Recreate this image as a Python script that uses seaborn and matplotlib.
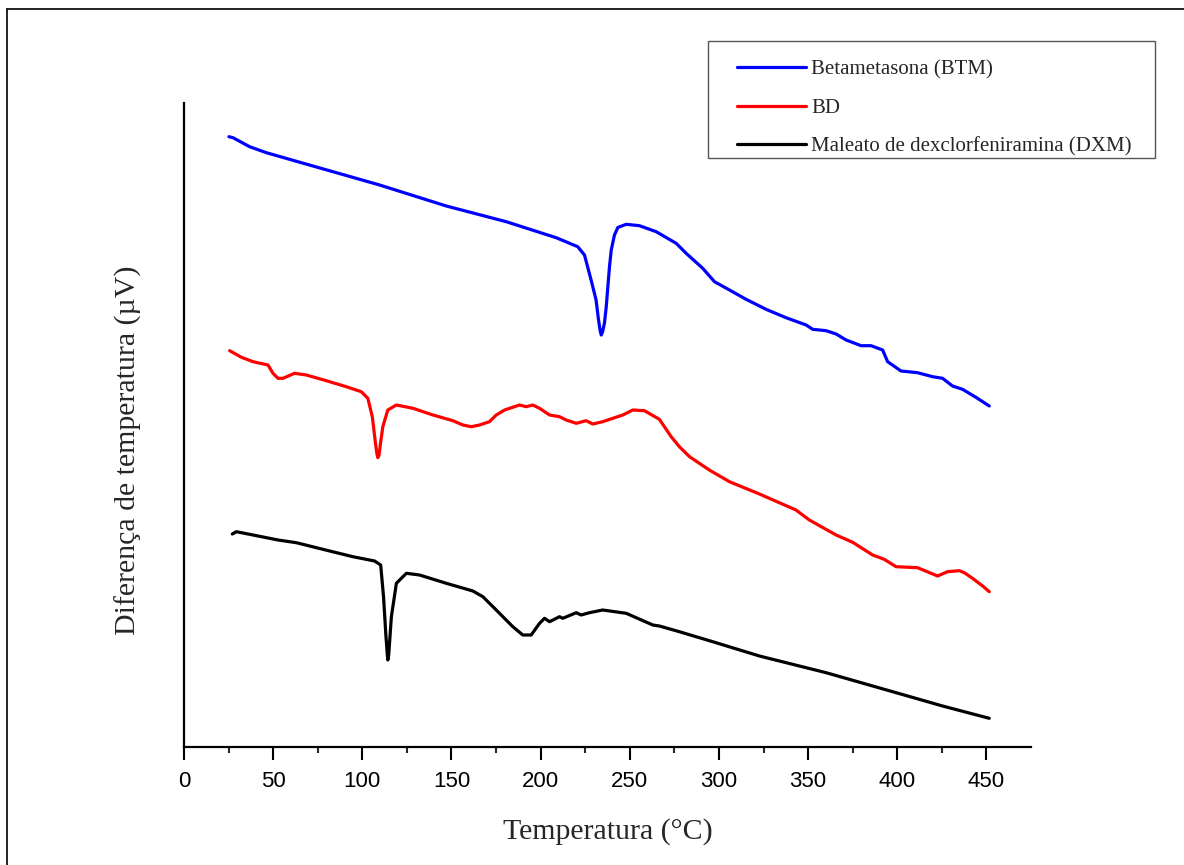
import numpy as np
import pandas as pd
import matplotlib
matplotlib.use("Agg")
import matplotlib.pyplot as plt
from matplotlib.lines import Line2D
from matplotlib.patches import Rectangle
import seaborn as sns

# ---------------- data ----------------
btm_T = [25.2, 27.5, 36.8, 46.2, 72.3, 109.7, 147.1, 180.7, 208.7, 220.8, 224.6, 228.3,
         231.1, 232.4, 233.4, 234.0, 234.7, 235.8, 236.8, 238.6, 239.6, 241.4, 243.3,
         248.0, 255.4, 264.8, 276.0, 281.6, 290.9, 297.5, 305.9, 315.2, 326.4, 337.6,
         348.9, 352.6, 360.1, 365.7, 371.3, 379.7, 385.3, 391.8, 394.6, 402.1, 411.4,
         419.8, 425.4, 431.0, 436.6, 444.1, 451.6]
btm_S = [610.3, 609.3, 600.3, 594.3, 581.0, 562.0, 541.0, 525.3, 509.3, 500.3, 492.0, 467.0,
         447.0, 428.0, 416.0, 412.0, 415.0, 424.0, 440.3, 480.0, 497.0, 512.0, 519.5,
         522.7, 521.3, 515.3, 503.7, 493.7, 478.7, 465.3, 457.0, 447.7, 437.7, 429.3,
         422.0, 417.7, 416.3, 413.0, 407.0, 401.3, 401.3, 397.0, 385.3, 376.0, 374.3,
         370.3, 368.7, 361.0, 357.7, 349.7, 341.0]

bd_T = [25.6, 32.2, 38.7, 47.1, 49.9, 52.7, 55.5, 62.0, 68.6, 79.8, 91.0, 99.4, 103.1,
        105.6, 107.3, 108.2, 108.7, 109.4, 110.3, 111.5, 114.3, 119.1, 128.4, 139.6,
        150.8, 156.4, 161.1, 165.7, 171.3, 175.1, 179.8, 188.2, 191.9, 195.6, 199.4,
        205.0, 210.6, 214.3, 220.0, 225.5, 229.2, 234.8, 240.5, 246.1, 251.7, 258.2,
        266.6, 273.2, 277.8, 283.5, 294.6, 305.9, 322.7, 343.2, 350.7, 365.7, 375.0,
        386.2, 392.7, 399.3, 411.4, 422.6, 428.2, 434.8, 437.6, 442.2, 447.9, 451.6]
bd_S = [396.3, 389.7, 385.3, 382.0, 373.7, 368.7, 368.7, 373.7, 372.0, 366.3, 360.3, 355.3,
        348.7, 330.3, 305.0, 293.0, 289.3, 292.0, 305.0, 320.3, 337.0, 342.0, 338.7, 332.0,
        326.3, 322.0, 320.3, 322.0, 325.3, 332.0, 337.0, 342.0, 340.3, 342.0, 338.7,
        332.0, 330.3, 327.0, 323.7, 326.3, 323.0, 325.3, 328.7, 332.0, 337.0, 336.3,
        327.7, 310.3, 300.3, 290.3, 277.0, 265.3, 253.0, 237.0, 227.0, 212.0, 204.7,
        192.0, 187.7, 180.3, 179.3, 171.0, 175.3, 176.3, 174.3, 168.7, 161.0, 155.3]

dxm_T = [27.1, 29.4, 38.7, 52.7, 63.0, 81.7, 94.7, 106.9, 110.3, 111.9, 113.2, 114.0,
         114.3, 114.8, 115.5, 116.3, 119.1, 124.7, 132.1, 147.1, 162.0, 167.6, 175.1,
         184.4, 190.0, 194.7, 199.4, 202.2, 205.0, 210.6, 212.4, 220.0, 222.7, 227.4,
         234.8, 248.0, 262.9, 266.6, 277.8, 296.5, 322.7, 360.1, 397.4, 425.4, 451.6]
dxm_S = [213.0, 215.3, 212.0, 207.0, 204.3, 196.0, 190.3, 186.0, 182.0, 150.3, 112.0, 93.0,
         87.0, 92.0, 110.0, 130.3, 163.7, 173.7, 172.0, 163.7, 156.0, 150.3, 137.0,
         120.3, 112.0, 112.0, 123.7, 128.7, 125.3, 130.3, 128.7, 134.3, 132.0, 134.3,
         137.0, 133.7, 122.0, 121.0, 115.3, 105.3, 91.0, 74.3, 55.3, 41.0, 28.7]

series_names = ["Betametasona (BTM)", "BD", "Maleato de dexclorfeniramina (DXM)"]
series_colors = ["#0000FF", "#FF0000", "#000000"]
x_ticks = [0, 50, 100, 150, 200, 250, 300, 350, 400, 450]

# ---------------- figure ----------------
sns.set_style("ticks")
plt.rcParams["font.family"] = ["Liberation Sans", "DejaVu Sans"]

fig = plt.figure(figsize=(11.84, 8.65), dpi=100)
ax = fig.add_axes([184 / 1184, (865 - 747) / 865, (1031 - 184) / 1184, 644 / 865])

frames = []
for name, T, S in zip(series_names, [btm_T, bd_T, dxm_T], [btm_S, bd_S, dxm_S]):
    frames.append(pd.DataFrame({"T": T, "S": S, "Amostra": name}))
df = pd.concat(frames, ignore_index=True)

sns.lineplot(data=df, x="T", y="S", hue="Amostra", hue_order=series_names,
             palette=dict(zip(series_names, series_colors)), sort=False,
             estimator=None, linewidth=2.3, ax=ax, legend=False)

ax.set_xlim(0, 475)
ax.set_ylim(0, 644)
ax.set_xticks(x_ticks)
ax.set_xticks(np.arange(25, 475, 50), minor=True)
ax.set_yticks([])
ax.tick_params(axis="x", which="major", length=9, width=1.5, direction="out",
               labelsize=16, pad=8, colors="black")
ax.tick_params(axis="x", which="minor", length=4.5, width=1.5, direction="out")
for s in ["top", "right"]:
    ax.spines[s].set_visible(False)
for s in ["left", "bottom"]:
    ax.spines[s].set_linewidth(1.6)
    ax.spines[s].set_color("black")
ax.set_facecolor("white")

serif = ["Liberation Serif", "DejaVu Serif"]
ax.set_xlabel("Temperatura (°C)", fontsize=21.5, family=serif, labelpad=19)
ax.set_ylabel("Diferença de temperatura (µV)", fontsize=21.5, family=serif)
ax.yaxis.set_label_coords(-0.050, 0.461)

# legend with a manually placed frame
handles = [Line2D([], [], color=c, lw=2.3) for c in series_colors]
leg = fig.legend(handles, series_names, loc="upper left",
                 bbox_to_anchor=(737 / 1184, 1 - 60 / 865), bbox_transform=fig.transFigure,
                 frameon=False, prop={"family": serif, "size": 15},
                 handlelength=3.3, handletextpad=0.25, labelspacing=0.9, borderpad=0,
                 borderaxespad=0)
fig.add_artist(Rectangle((708 / 1184, 1 - 158 / 865), (1155 - 708) / 1184, (158 - 41) / 865,
                         transform=fig.transFigure, fill=False, edgecolor="#555555", lw=1.0))

# outer figure frame (left and top only)
fig.add_artist(Line2D([6.5 / 1184, 6.5 / 1184], [0, 1 - 9 / 865], transform=fig.transFigure,
                      color="black", lw=1.2))
fig.add_artist(Line2D([6.5 / 1184, 1], [1 - 9 / 865, 1 - 9 / 865], transform=fig.transFigure,
                      color="black", lw=1.2))

fig.savefig("out.png", dpi=100, facecolor="white")
